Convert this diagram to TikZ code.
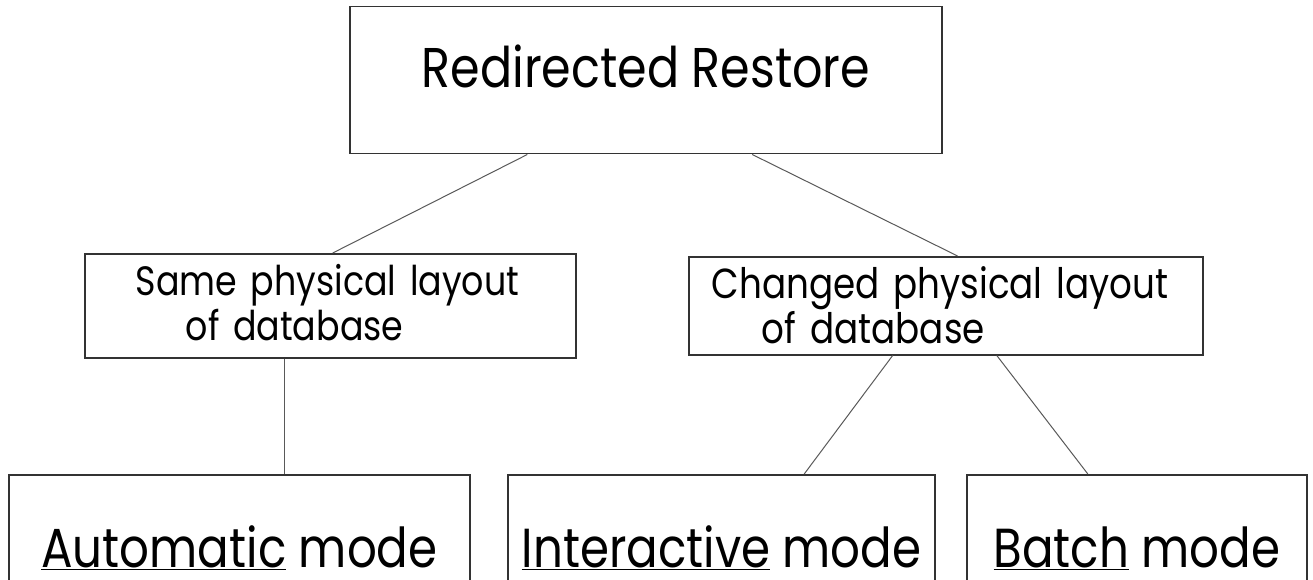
\documentclass[tikz,border=0pt]{standalone}
\usepackage{fontspec}
\setmainfont{Poppins}[FakeStretch=0.85]
\usetikzlibrary{calc}

\newcommand{\undl}[1]{\underline{#1}}

\begin{document}
\begin{tikzpicture}
  [x=1pt,y=-1pt,
   box/.style={draw=black!80,line width=1.5pt,inner sep=0pt},
   link/.style={draw=black!65,line width=1pt}]
  \useasboundingbox (0,0) rectangle (1313,580);
  % top
  \node[box,anchor=north,minimum width=592pt,text height=81pt,text depth=66pt,
        font=\fontsize{56}{64}\selectfont] (restore) at (646,6) {Redirected Restore};
  % middle row
  \node[box,anchor=north west,inner xsep=51pt,text width=389pt,align=left,
        text height=42pt,text depth=62pt,font=\fontsize{41}{45}\selectfont]
    (same) at (84,253) {\mbox{Same physical layout}\\\mbox{\hspace*{50pt}of database}};
  \node[box,anchor=north west,inner xsep=23pt,text width=468pt,align=left,
        text height=42pt,text depth=56pt,font=\fontsize{42}{45}\selectfont]
    (changed) at (688,256) {\mbox{Changed physical layout}\\\mbox{\hspace*{50pt}of database}};
  % bottom row (boxes run off the lower edge)
  \node[box,anchor=north,minimum width=461pt,text height=93pt,text depth=16pt,
        font=\fontsize{55}{64}\selectfont] (automatic) at (239.5,474) {\undl{Automatic} mode};
  \node[box,anchor=north,minimum width=427pt,text height=93pt,text depth=16pt,
        font=\fontsize{55}{64}\selectfont] (interactive) at (721.5,474) {\undl{Interactive} mode};
  \node[box,anchor=north,minimum width=340pt,text height=93pt,text depth=16pt,
        font=\fontsize{55}{64}\selectfont] (batch) at (1137,474) {\undl{Batch} mode};
  % edges
  \draw[link] ($(restore.south west)!0.3!(restore.south east)$)
    -- ($(same.north west)!0.505!(same.north east)$);
  \draw[link] ($(restore.south west)!0.679!(restore.south east)$)
    -- ($(changed.north west)!0.523!(changed.north east)$);
  \coordinate (samefoot) at ($(same.south west)!0.407!(same.south east)$);
  \draw[link] (samefoot) -- (samefoot |- automatic.north);
  \draw[link] ($(changed.south west)!0.397!(changed.south east)$)
    -- ($(interactive.north west)!0.693!(interactive.north east)$);
  \draw[link] ($(changed.south west)!0.599!(changed.south east)$)
    -- ($(batch.north west)!0.356!(batch.north east)$);
\end{tikzpicture}
\end{document}
